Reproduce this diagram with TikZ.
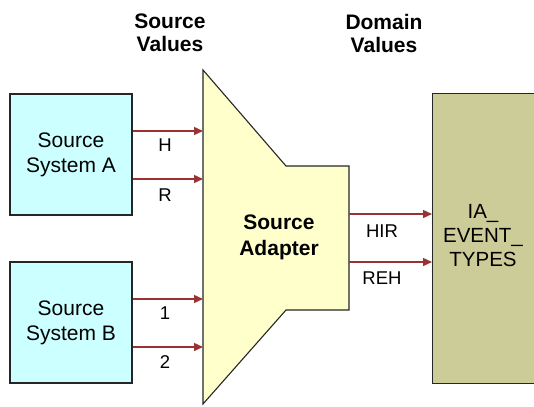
\documentclass[tikz,border=0pt]{standalone}
\usepackage{fontspec}
\setmainfont{Liberation Sans}
\usetikzlibrary{arrows.meta}
\definecolor{srcfill}{HTML}{CCFFFF}
\definecolor{adpfill}{HTML}{FFFFCC}
\definecolor{domfill}{HTML}{CCCC99}
\definecolor{flow}{HTML}{993333}
\tikzset{
  sysbox/.style={draw=black!85, line width=1.4pt, fill=srcfill, minimum width=122pt, minimum height=121pt, inner sep=0pt, align=center, font=\fontsize{21}{25}\selectfont},
  flowarrow/.style={draw=flow, line width=1.4pt, -{Triangle[length=9pt,width=8pt]}},
  flowlabel/.style={inner sep=0pt, font=\fontsize{18.5}{22}\selectfont},
  header/.style={inner sep=0pt, align=center, font=\bfseries\fontsize{21}{23}\selectfont},
}
\begin{document}
\begin{tikzpicture}[x=1pt,y=-1pt]
\useasboundingbox (0,0) rectangle (534,406);
% headers
\node[header] (hsrc) at (170,33) {Source\\Values};
\node[header] (hdom) at (384,33) {Domain\\Values};
% adapter shape
\coordinate (p1) at (203,70);
\coordinate (p2) at (286,166);
\coordinate (p3) at (349,166);
\coordinate (p4) at (349,310);
\coordinate (p5) at (286,310);
\coordinate (p6) at (203,404);
\draw[fill=adpfill, draw=black!85, line width=1.1pt, line join=miter] (p1) -- (p2) -- (p3) -- (p4) -- (p5) -- (p6) -- cycle;
\node[inner sep=0pt, align=center, font=\bfseries\fontsize{21}{26}\selectfont] (adp) at (279,237) {Source\\Adapter};
% domain box
\node[draw=black!85, line width=1.4pt, fill=domfill, minimum width=116pt, minimum height=290pt, inner sep=0pt, anchor=north west] (dom) at (432,93) {};
\node[inner sep=0pt, align=center, font=\fontsize{20.5}{24}\selectfont] (domtxt) at (483,236) {IA\_\\EVENT\_\\TYPES};
% source systems
\node[sysbox] (A) at (71,154.5) {Source\\System A};
\node[sysbox] (B) at (71,322.5) {Source\\System B};
% arrow targets
\coordinate (a1) at (203,131);
\coordinate (a2) at (203,179);
\coordinate (b1) at (203,299);
\coordinate (b2) at (203,347);
\coordinate (d1) at (432,214);
\coordinate (d2) at (432,262);
\draw[flowarrow] (A.east |- a1) -- (a1);
\draw[flowarrow] (A.east |- a2) -- (a2);
\draw[flowarrow] (B.east |- b1) -- (b1);
\draw[flowarrow] (B.east |- b2) -- (b2);
\draw[flowarrow] (p3 |- d1) -- (d1);
\draw[flowarrow] (p3 |- d2) -- (d2);
% labels
\node[flowlabel] (lH) at (165,145) {H};
\node[flowlabel] (lR) at (165,195) {R};
\node[flowlabel] (l1) at (165,313) {1};
\node[flowlabel] (l2) at (165,362) {2};
\node[flowlabel] (lHIR) at (382,231) {HIR};
\node[flowlabel] (lREH) at (382,278) {REH};
\end{tikzpicture}
\end{document}
